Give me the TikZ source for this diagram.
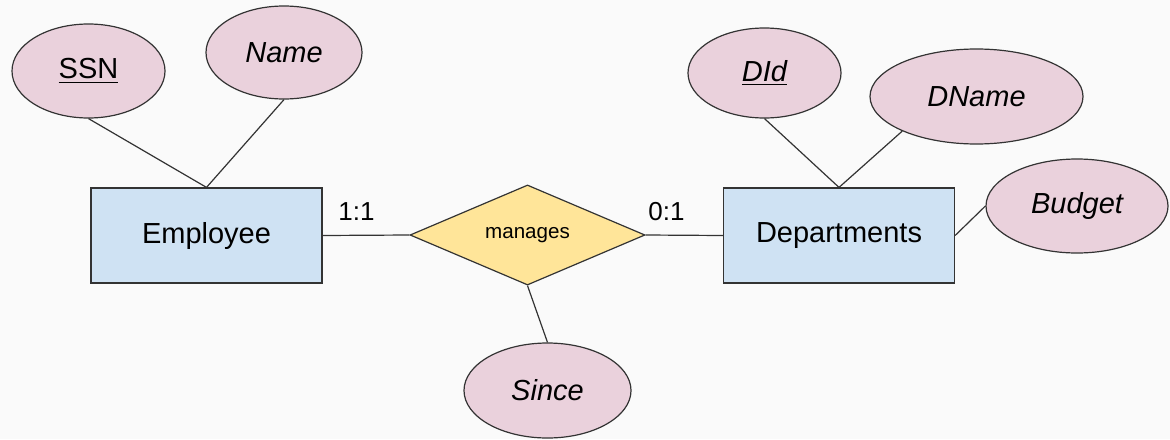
\documentclass[tikz,border=0pt]{standalone}
\usepackage{fontspec}
\setmainfont{Liberation Sans}
\usetikzlibrary{shapes.geometric}
\definecolor{entfill}{HTML}{CFE2F3}
\definecolor{attfill}{HTML}{EAD1DC}
\definecolor{relfill}{HTML}{FFE599}
\definecolor{bgfill}{HTML}{FAFAFA}
\definecolor{edgegray}{HTML}{333333}

\begin{document}
\begin{tikzpicture}
[x=0.5pt,y=-0.5pt,
entity/.style={rectangle,draw=edgegray,fill=entfill,line width=0.6pt,inner sep=0pt,minimum width=115.5pt,minimum height=47.5pt,font=\fontsize{14.5pt}{17pt}\selectfont},
attr/.style={ellipse,draw=edgegray,fill=attfill,line width=0.6pt,inner sep=0pt,minimum width=76.5pt,minimum height=47pt,font=\fontsize{14.5pt}{17pt}\selectfont\itshape},
relation/.style={diamond,draw=edgegray,fill=relfill,line width=0.6pt,inner sep=0pt,minimum width=117.5pt,minimum height=47pt,font=\fontsize{10.3pt}{12pt}\selectfont},
card/.style={draw=none,inner sep=1pt,font=\fontsize{13pt}{15pt}\selectfont},
link/.style={draw=edgegray,line width=0.6pt}]
\useasboundingbox[fill=bgfill] (0,0) rectangle (1170,439);

% entities and relationship
\node[entity] (emp) at (206.5,235.5) {Employee};
\node[entity] (dep) at (839,235.5) {Departments};
\node[relation] (man) at (527.5,235) {manages};

% attributes
\node[attr] (ssn) at (88.5,71) {\underline{\upshape SSN}};
\node[attr,minimum width=78pt,minimum height=46.5pt] (name) at (284,52.5) {Name};
\node[attr,minimum height=45pt] (did) at (764.5,73) {\underline{DId}};
\node[attr,minimum width=106.5pt,minimum height=47.5pt] (dname) at (976.5,96.5) {DName};
\node[attr,minimum width=91pt] (budget) at (1077,206) {Budget};
\node[attr,minimum width=83.5pt,minimum height=47.5pt] (since) at (547.5,390.5) {Since};

% cardinalities
\node[card] (c11) at (356.5,212) {1:1};
\node[card] (c01) at (666.5,212) {0:1};

\draw[link] (emp.east) -- (man.west);
\draw[link] (man.east) -- (dep.west);
\draw[link] (man.south) -- (since.north);
\draw[link] (ssn.south) -- (emp.north);
\draw[link] (name.south) -- (emp.north);
\draw[link] (did.south) -- (dep.north);
\draw[link] (dname.205) -- (dep.north);
\draw[link] (budget.west) -- (dep.east);
\end{tikzpicture}
\end{document}
